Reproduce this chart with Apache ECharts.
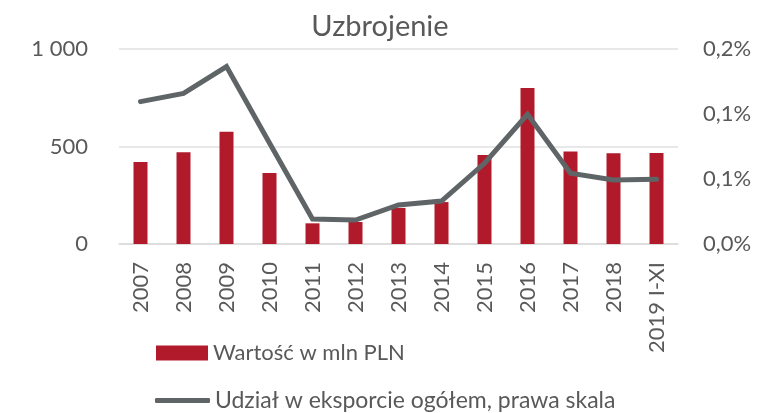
<!DOCTYPE html>
<html>
<head>
<meta charset="utf-8">
<script src="https://cdn.jsdelivr.net/npm/echarts@6/dist/echarts.min.js"></script>
<style>
  html,body{margin:0;padding:0;background:#fff;}
  #chart{width:760px;height:413px;}
</style>
</head>
<body>
<div id="chart"></div>
<script>
// dane z wykresu
var lata = ['2007','2008','2009','2010','2011','2012','2013','2014','2015','2016','2017','2018','2019 I-XI'];
var wartosc = [420, 470, 576, 364, 106, 113, 185, 215, 456, 800, 475, 465, 467];
var udzial = [0.146, 0.1545, 0.182, 0.1035, 0.0256, 0.0246, 0.040, 0.044, 0.0828, 0.133, 0.0725, 0.0656, 0.0663];
var lewaOs = [0, 500, 1000];
var prawaOs = [0, 0.2];

var szary = '#595959';
var font = 'Lato';

function tysiace(v){
  return String(v).replace(/\B(?=(\d{3})+(?!\d))/g,' ');
}

var mychart = echarts.init(document.getElementById('chart'));
var option = {
  animation: false,
  textStyle: {fontFamily: font, color: szary},
  title: {
    text: 'Uzbrojenie',
    left: 'center',
    top: 7,
    textStyle: {fontFamily: font, fontSize: 29, fontWeight: 'normal', color: szary}
  },
  legend: [
    {
      left: 156,
      top: 342,
      padding: 0,
      itemWidth: 52,
      itemHeight: 15,
      textStyle: {fontFamily: font, fontSize: 22, color: szary},
      data: [{name: 'Wartość w mln PLN', icon: 'rect'}]
    },
    {
      left: 155,
      top: 389,
      padding: 0,
      itemWidth: 55,
      itemHeight: 5,
      textStyle: {fontFamily: font, fontSize: 23, color: szary},
      data: [{name: 'Udział w eksporcie ogółem, prawa skala', icon: 'roundRect'}]
    }
  ],
  grid: {left: 119, right: 82, top: 49, bottom: 169},
  xAxis: {
    type: 'category',
    data: lata,
    axisLine: {lineStyle: {color: '#d9d9d9', width: 1.5}},
    axisTick: {show: false},
    axisLabel: {rotate: 90, margin: 18, fontSize: 22, color: szary, fontFamily: font}
  },
  yAxis: [
    {
      type: 'value',
      min: lewaOs[0],
      max: lewaOs[2],
      interval: lewaOs[1],
      axisLine: {show: false},
      axisTick: {show: false},
      splitLine: {lineStyle: {color: '#e0e0e0', width: 1.5}},
      axisLabel: {margin: 31, fontSize: 22, color: szary, fontFamily: font, formatter: tysiace}
    },
    {
      type: 'value',
      min: prawaOs[0],
      max: prawaOs[1],
      interval: prawaOs[1] / 3,
      axisLine: {show: false},
      axisTick: {show: false},
      splitLine: {show: false},
      axisLabel: {
        margin: 25, fontSize: 22, color: szary, fontFamily: font,
        formatter: function(v){ return v.toFixed(1).replace('.', ',') + '%'; }
      }
    }
  ],
  series: [
    {
      name: 'Wartość w mln PLN',
      type: 'bar',
      data: wartosc,
      barWidth: 14,
      itemStyle: {color: '#b11a2b'}
    },
    {
      name: 'Udział w eksporcie ogółem, prawa skala',
      type: 'line',
      yAxisIndex: 1,
      data: udzial,
      symbol: 'none',
      z: 5,
      itemStyle: {color: '#5f6566'},
      lineStyle: {color: '#5f6566', width: 5, cap: 'round', join: 'miter'}
    }
  ]
};
mychart.setOption(option);
</script>
</body>
</html>
